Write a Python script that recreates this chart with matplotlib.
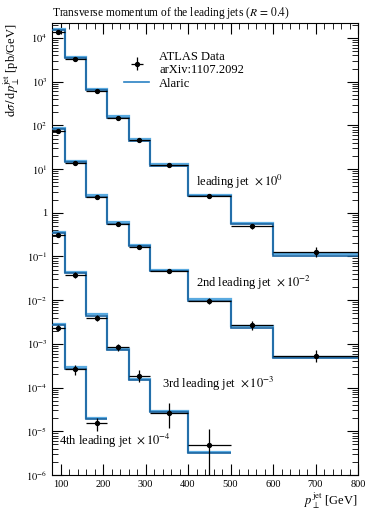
import numpy as np
import matplotlib
matplotlib.use("Agg")
import matplotlib.pyplot as plt
from matplotlib import ticker
from matplotlib.lines import Line2D

plt.rcParams['font.family'] = ['Liberation Serif', 'DejaVu Serif']
plt.rcParams['mathtext.fontset'] = 'stix'

# bin edges (GeV)
edges_lead = [80, 110, 160, 210, 260, 310, 400, 500, 600, 800]
edges_3rd = [80, 110, 160, 210, 260, 310, 400, 500]
edges_4th = [80, 110, 160, 210]

# leading jet x 10^0
lead_data = [1.38e4, 3.3e3, 622, 150, 46, 12.4, 2.46, 0.49, 0.129]
lead_mc = [1.5e4, 3.4e3, 640, 150, 45, 12.0, 2.4, 0.54, 0.105]
lead_up = [0.12, 0.07, 0.06, 0.08, 0.08, 0.07, 0.12, 0.15, 0.25]
lead_dn = [0.12, 0.07, 0.06, 0.08, 0.08, 0.07, 0.12, 0.15, 0.25]

# 2nd leading jet x 10^-2
second_data = [74, 14.0, 2.26, 0.546, 0.168, 0.047, 0.0096, 0.0027, 5.4e-4]
second_mc = [82, 14.5, 2.33, 0.56, 0.175, 0.047, 0.0098, 0.00235, 4.7e-4]
second_up = [0.1, 0.07, 0.07, 0.08, 0.1, 0.1, 0.15, 0.25, 0.35]
second_dn = [0.1, 0.07, 0.07, 0.08, 0.1, 0.1, 0.15, 0.25, 0.3]

# 3rd leading jet x 10^-3
third_data = [0.31, 0.038, 0.0039, 8.4e-4, 1.87e-4, 2.6e-5, 4.9e-6]
third_mc = [0.34, 0.041, 0.0044, 7.2e-4, 1.5e-4, 2.7e-5, 3.2e-6]
third_up = [0.1, 0.15, 0.15, 0.2, 0.35, 0.75, 1.3]
third_dn = [0.1, 0.15, 0.15, 0.2, 0.3, 0.55, 0.99]

# 4th leading jet x 10^-4
fourth_data = [2.35e-3, 2.6e-4, 1.52e-5]
fourth_mc = [2.7e-3, 2.7e-4, 1.88e-5]
fourth_up = [0.15, 0.25, 0.35]
fourth_dn = [0.15, 0.25, 0.33]

series = [
    (edges_lead, lead_data, lead_mc, lead_up, lead_dn),
    (edges_lead, second_data, second_mc, second_up, second_dn),
    (edges_3rd, third_data, third_mc, third_up, third_dn),
    (edges_4th, fourth_data, fourth_mc, fourth_up, fourth_dn),
]

labels = [
    (419, 5.1, r'leading jet  $\times\,10^{0}$'),
    (419, 0.025, r'2nd leading jet  $\times\,10^{-2}$'),
    (339, 1.2e-4, r'3rd leading jet  $\times\,10^{-3}$'),
    (97, 6.0e-6, r'4th leading jet  $\times\,10^{-4}$'),
]

y_major = [1e-6, 1e-5, 1e-4, 1e-3, 1e-2, 1e-1, 1, 1e1, 1e2, 1e3, 1e4]

dark = '#1a64a0'
light = '#5aaae0'

fig = plt.figure(figsize=(3.67, 5.09), dpi=100)
ax = fig.add_axes([52 / 367, 1 - 475 / 509, 306 / 367, 452 / 509])

for edges, data, mc, up, dn in series:
    edges = np.array(edges, dtype=float)
    data = np.array(data)
    mc = np.array(mc)
    centres = 0.5 * (edges[1:] + edges[:-1])
    half = 0.5 * (edges[1:] - edges[:-1])
    # MC with thin band
    ax.stairs(mc * 1.07, edges, color=light, lw=1.6, baseline=None, zorder=2)
    ax.stairs(mc, edges, color=dark, lw=1.2, baseline=None, zorder=3)
    yerr = [data * np.array(dn), data * np.array(up)]
    ax.errorbar(centres, data, xerr=half, yerr=yerr, fmt='o', ms=2.8,
                color='black', ecolor='black', elinewidth=0.9, capsize=0, zorder=4)

for x, y, s in labels:
    ax.text(x, y, s, fontsize=9, va='center', ha='left')

ax.set_yscale('log')
ax.set_xlim(80, 800)
ax.set_ylim(1e-6, 2.2e4)

ax.xaxis.set_major_locator(ticker.MultipleLocator(100))
ax.xaxis.set_minor_locator(ticker.MultipleLocator(20))
ax.yaxis.set_major_locator(ticker.FixedLocator(y_major))
ax.yaxis.set_minor_locator(ticker.LogLocator(base=10, subs=np.arange(2, 10), numticks=20))


def fmt_y(v, pos):
    n = int(round(np.log10(v)))
    if n == 0:
        return '1'
    return r'$10^{%d}$' % n


ax.yaxis.set_major_formatter(ticker.FuncFormatter(fmt_y))
ax.yaxis.set_minor_formatter(ticker.NullFormatter())
ax.tick_params(which='both', direction='in', top=True, right=True, labelsize=7.5)
ax.tick_params(which='major', length=8, width=0.8)
ax.tick_params(which='minor', length=4, width=0.6)
for sp in ax.spines.values():
    sp.set_linewidth(0.8)

ax.set_xlabel(r'$p_\perp^{\mathrm{jet}}$ [GeV]', fontsize=9, loc='right', labelpad=1)
ax.set_ylabel(r'$\mathrm{d}\sigma\,/\,\mathrm{d}p_\perp^{\mathrm{jet}}$ [pb/GeV]',
              fontsize=9, loc='top', labelpad=3)
ax.set_title(r'Transverse momentum of the leading jets ($R\,=\,0.4$)',
             fontsize=8.3, loc='left', pad=5)

h_data = ax.errorbar([], [], xerr=[], yerr=[], fmt='o', ms=2.8, color='black', elinewidth=0.9)
h_mc = Line2D([], [], color='#2a82c4', lw=1.2)
ax.legend([h_data, h_mc], ['ATLAS Data\narXiv:1107.2092', 'Alaric'],
          loc='upper left', bbox_to_anchor=(0.22, 0.95), frameon=False,
          fontsize=9, handlelength=2.0, handletextpad=0.8, labelspacing=0.1,
          borderaxespad=0)

fig.savefig('out.png', dpi=100)
